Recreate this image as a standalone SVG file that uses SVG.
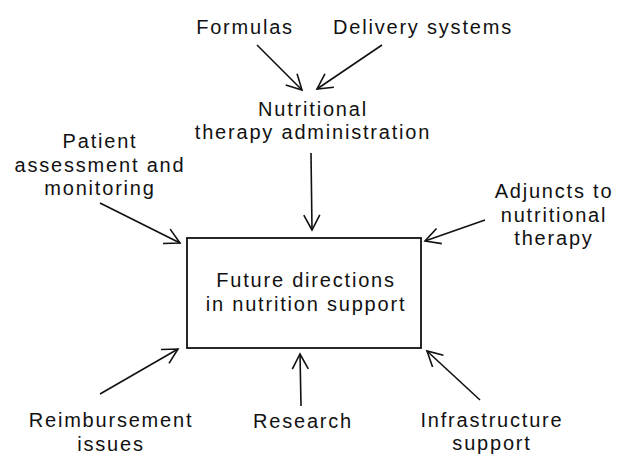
<svg xmlns="http://www.w3.org/2000/svg" width="617" height="454" viewBox="0 0 617 454">
  <style>
    .lbl { font-family: "Liberation Sans", Arial, Helvetica, sans-serif; font-size: 20px; letter-spacing: 1.8px; fill: #111; text-anchor: middle; }
    .conn { stroke: #111; stroke-width: 1.6; fill: none; marker-end: url(#arrow); }
    .box { fill: #fff; stroke: #111; stroke-width: 1.8; }
  </style>
  <defs>
    <marker id="arrow" markerUnits="userSpaceOnUse" markerWidth="40" markerHeight="40" viewBox="-20 -20 40 40" refX="0" refY="0" orient="auto">
      <path d="M-15,-8 L0,0 L-15,8" fill="none" stroke="#111" stroke-width="1.6" stroke-linejoin="miter"/>
    </marker>
  </defs>

  <rect width="617" height="454" fill="#fff"/>

  <!-- connectors -->
  <g id="connectors">
    <line class="conn" x1="257" y1="45" x2="302" y2="90"/>
    <line class="conn" x1="382" y1="45" x2="317" y2="89"/>
    <line class="conn" x1="311" y1="153" x2="312" y2="230"/>
    <line class="conn" x1="100" y1="203" x2="180" y2="243"/>
    <line class="conn" x1="485" y1="220" x2="425" y2="241"/>
    <line class="conn" x1="100" y1="394" x2="178" y2="349"/>
    <line class="conn" x1="301" y1="406" x2="300" y2="354"/>
    <line class="conn" x1="480" y1="400" x2="427" y2="351"/>
  </g>

  <!-- nodes -->
  <g id="formulas">
    <text class="lbl" x="245" y="34">Formulas</text>
  </g>
  <g id="delivery-systems">
    <text class="lbl" x="423" y="34">Delivery systems</text>
  </g>
  <g id="therapy-administration">
    <text class="lbl" x="313" y="116">Nutritional</text>
    <text class="lbl" x="313" y="139">therapy administration</text>
  </g>
  <g id="patient-assessment">
    <text class="lbl" x="100" y="148">Patient</text>
    <text class="lbl" x="100" y="172">assessment and</text>
    <text class="lbl" x="100" y="195">monitoring</text>
  </g>
  <g id="adjuncts">
    <text class="lbl" x="554" y="198">Adjuncts to</text>
    <text class="lbl" x="554" y="222">nutritional</text>
    <text class="lbl" x="554" y="245">therapy</text>
  </g>
  <g id="future-directions">
    <rect class="box" x="187" y="238" width="234" height="110"/>
    <text class="lbl" x="306" y="287">Future directions</text>
    <text class="lbl" x="306" y="311">in nutrition support</text>
  </g>
  <g id="reimbursement">
    <text class="lbl" x="111" y="427">Reimbursement</text>
    <text class="lbl" x="111" y="451">issues</text>
  </g>
  <g id="research">
    <text class="lbl" x="303" y="428">Research</text>
  </g>
  <g id="infrastructure">
    <text class="lbl" x="492" y="427">Infrastructure</text>
    <text class="lbl" x="492" y="450">support</text>
  </g>
</svg>
